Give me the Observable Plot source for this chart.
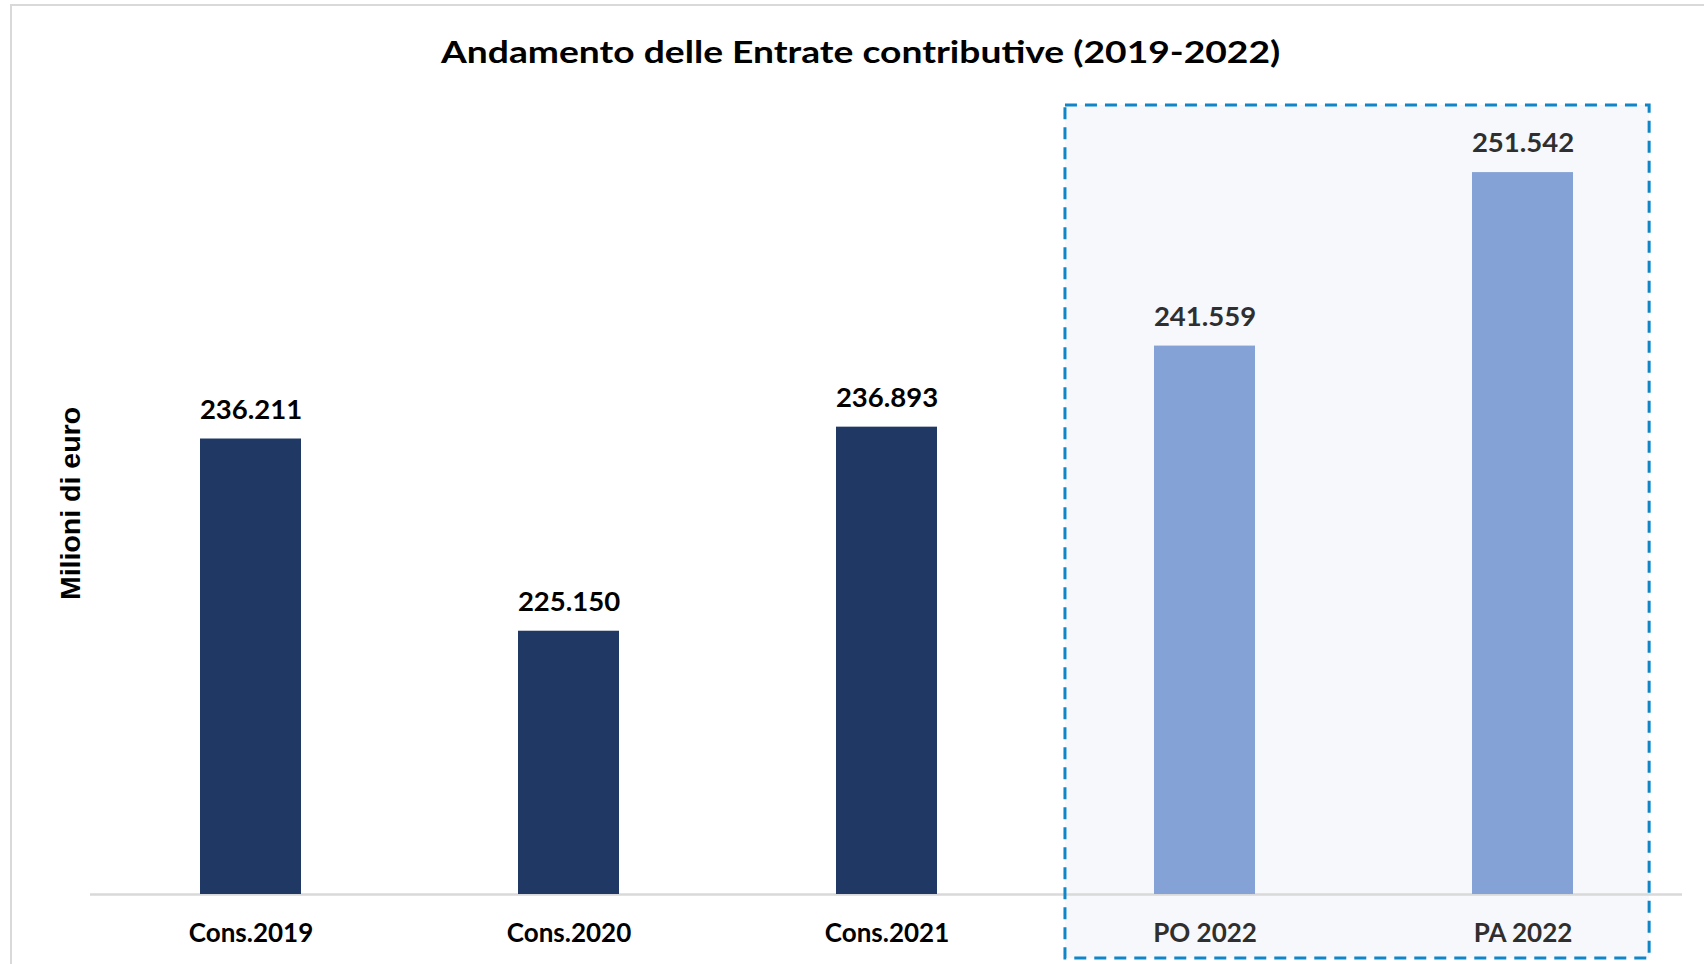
<!DOCTYPE html>
<html><head><meta charset="utf-8">
<script src="https://cdn.jsdelivr.net/npm/d3@7"></script>
<script src="https://cdn.jsdelivr.net/npm/@observablehq/plot@0.6"></script>
<style>
html,body{margin:0;padding:0;background:#fff;}
#wrap{position:relative;width:1704px;height:964px;overflow:hidden;background:#fff;}
#border{position:absolute;left:10px;top:4px;width:1800px;height:1000px;border-top:2px solid #d9d9d9;border-left:2px solid #d9d9d9;}
#title{position:absolute;left:9px;width:1704px;top:31px;text-align:center;font-family:Lato,"Noto Sans",sans-serif;font-weight:bold;font-size:31px;color:#000;line-height:40px;white-space:nowrap;}
#title span{display:inline-block;transform:scaleX(1.2);transform-origin:center;}
#chart{position:absolute;left:0;top:90px;}
</style></head><body>
<div id="wrap"><div id="border"></div><div id="title"><span id="titletext"></span></div><div id="chart"></div></div>
<script>
const titleText = "Andamento delle Entrate contributive (2019-2022)";
const yLabel = "Milioni di euro";
const categories = ["Cons.2019", "Cons.2020", "Cons.2021", "PO 2022", "PA 2022"];
const values = [236211, 225150, 236893, 241559, 251542];
const valueLabels = ["236.211", "225.150", "236.893", "241.559", "251.542"];
const kinds = ["cons", "cons", "cons", "prev", "prev"];
const yDomain = [210000, 255000];
const yBase = yDomain[0];

const barColor = {cons: "#203864", prev: "#84A2D5"};
const textColor = {cons: "#000000", prev: "#2f2f2f"};

const data = categories.map((c, i) => ({category: c, value: values[i], label: valueLabels[i], kind: kinds[i]}));

document.getElementById("titletext").textContent = titleText;

const paddingInner = 0.683;
function boxGeometry(scales, dimensions) {
  const x = scales.x;
  const step = x("PA 2022") - x("PO 2022");
  const bw = step * (1 - paddingInner);
  return {
    x1: x("PO 2022") - 0.28 * step,
    x2: x("PA 2022") + bw + 0.24 * step,
    y1: dimensions.marginTop - 7,
    y2: dimensions.height - 6
  };
}
function highlightBox(index, scales, vals, dimensions) {
  const b = boxGeometry(scales, dimensions);
  const g = d3.create("svg:g");
  g.append("rect").attr("x", b.x1).attr("y", b.y1).attr("width", b.x2 - b.x1).attr("height", b.y2 - b.y1)
    .attr("fill", "#f6f8fc").attr("stroke", "none");
  return g.node();
}
function highlightBorder(index, scales, vals, dimensions) {
  const b = boxGeometry(scales, dimensions);
  const g = d3.create("svg:g");
  g.append("rect").attr("x", b.x1).attr("y", b.y1).attr("width", b.x2 - b.x1).attr("height", b.y2 - b.y1)
    .attr("fill", "none").attr("stroke", "#0f86c8").attr("stroke-width", 3).attr("stroke-dasharray", "12,8");
  return g.node();
}

const chart = Plot.plot({
  width: 1704,
  height: 874,
  marginLeft: 90,
  marginRight: 22,
  marginTop: 22,
  marginBottom: 70,
  style: {background: "transparent", overflow: "visible"},
  x: {domain: categories, paddingInner: paddingInner, paddingOuter: 0.342, axis: null},
  y: {domain: yDomain, axis: null},
  color: {type: "identity"},
  marks: [
    highlightBox,
    Plot.ruleY([yBase], {stroke: "#d9d9d9", strokeWidth: 2.5}),
    Plot.barY(data, {x: "category", y1: yBase, y2: "value", fill: d => barColor[d.kind]}),
    Plot.text(data, {x: "category", y: "value", text: "label", dy: -29, fill: d => textColor[d.kind],
      fontSize: 27.5, fontWeight: "bold", fontFamily: "Lato, 'Noto Sans', sans-serif"}),
    Plot.text(data, {x: "category", frameAnchor: "bottom", text: "category", lineAnchor: "top", dy: 29,
      fill: d => textColor[d.kind], fontSize: 26, fontWeight: "bold", fontFamily: "Lato, 'Noto Sans', sans-serif"}),
    Plot.text([yLabel], {frameAnchor: "left", text: d => d, rotate: -90, dx: -20, textAnchor: "middle", fill: "#000",
      fontSize: 28.5, fontWeight: "bold", fontFamily: "'Liberation Sans', Arial, sans-serif"}),
    highlightBorder
  ]
});
document.getElementById("chart").appendChild(chart);
</script>
</body></html>
